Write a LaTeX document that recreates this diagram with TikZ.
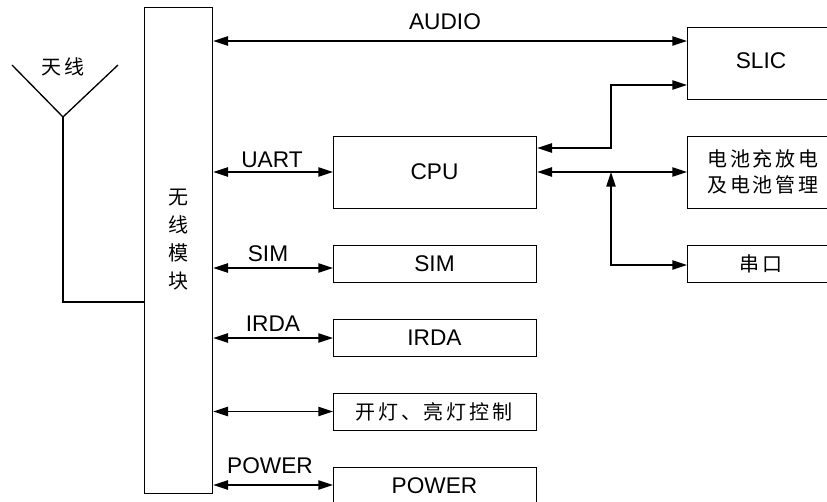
\documentclass[tikz,border=0pt]{standalone}
\usepackage{fontspec}
\setmainfont{Liberation Sans}
\newfontfamily\cjk[LetterSpace=14]{Noto Sans CJK SC}
\usetikzlibrary{arrows.meta}
\begin{document}
\begin{tikzpicture}[x=0.75pt,y=-0.75pt,
  line width=1pt,
  box/.style={draw,inner sep=0pt,anchor=north west},
  lat/.style={font=\fontsize{17}{20}\selectfont},
  zh/.style={font=\cjk\fontsize{15}{19.5}\selectfont,align=center},
  conn/.style={{Triangle[length=11pt,width=7pt]}-{Triangle[length=11pt,width=7pt]}},
  tipend/.style={-{Triangle[length=11pt,width=7pt]}}]
\useasboundingbox (0,0) rectangle (827,502);
% boxes
\node[box,minimum width=51pt,minimum height=364.5pt] (mod) at (144,7) {};
\node[zh,font=\cjk\fontsize{15}{21}\selectfont] (modt) at (178,240) {无\\线\\模\\块};
\node[box,minimum width=111pt,minimum height=54pt] (slic) at (687,27) {};
\node[lat] (slict) at (761,61) {SLIC};
\node[box,minimum width=152.25pt,minimum height=54pt] (cpu) at (333,136) {};
\node[lat] (cput) at (434.5,172) {CPU};
\node[box,minimum width=111pt,minimum height=54pt] (bat) at (687,136) {};
\node[zh] (batt) at (763,172) {电池充放电\\及电池管理};
\node[box,minimum width=111pt,minimum height=27.75pt] (com) at (687,245) {};
\node[zh] (comt) at (761,264) {串口};
\node[box,minimum width=152.25pt,minimum height=27.75pt] (sim) at (333,245) {};
\node[lat] (simt) at (434.5,264) {SIM};
\node[box,minimum width=152.25pt,minimum height=27.75pt] (irda) at (333,319) {};
\node[lat] (irdat) at (434.5,338) {IRDA};
\node[box,minimum width=152.25pt,minimum height=27.75pt] (led) at (333,393) {};
\node[zh] (ledt) at (434,411.5) {开灯、亮灯控制};
\node[box,minimum width=152.25pt,minimum height=27.75pt] (pwr) at (333,467) {};
\node[lat] (pwrt) at (434.5,486) {POWER};
% antenna
\coordinate (aL) at (12,65);
\coordinate (aR) at (118,65);
\coordinate (aV) at (63,117);
\coordinate (aB) at (63,302);
\draw (aL) -- (aV) -- (aR);
\draw (aV) -- (aB) -- (mod.west |- aB);
\node[zh] (antt) at (63,67) {天线};
% row coordinates
\coordinate (yAudio) at (0,41);
\coordinate (yUart) at (0,172);
\coordinate (ySim) at (0,268);
\coordinate (yIrda) at (0,338);
\coordinate (yLed) at (0,411.5);
\coordinate (yPwr) at (0,485);
\coordinate (ySl) at (0,85);
\coordinate (yCs) at (0,148);
\coordinate (xJ) at (611,0);
\coordinate (jn) at (611,172);
% connectors
\draw[conn] (mod.east |- yAudio) -- (slic.west |- yAudio);
\node[lat] (audiol) at (445,22) {AUDIO};
\draw[conn] (mod.east |- yUart) -- (cpu.west |- yUart);
\node[lat] (uartl) at (272,160) {UART};
\draw[conn] (mod.east |- ySim) -- (sim.west |- ySim);
\node[lat] (siml) at (268,254) {SIM};
\draw[conn] (mod.east |- yIrda) -- (irda.west |- yIrda);
\node[lat] (irdal) at (273,324) {IRDA};
\draw[conn] (mod.east |- yLed) -- (led.west |- yLed);
\draw[conn] (mod.east |- yPwr) -- (pwr.west |- yPwr);
\node[lat] (pwrl) at (270,466) {POWER};
\draw[conn] (cpu.east |- yCs) -| (xJ |- ySl) -- (slic.west |- ySl);
\draw[conn] (cpu.east |- yUart) -- (bat.west |- yUart);
\draw[conn] (jn) |- (com.west |- {(0,265)});
\end{tikzpicture}
\end{document}
